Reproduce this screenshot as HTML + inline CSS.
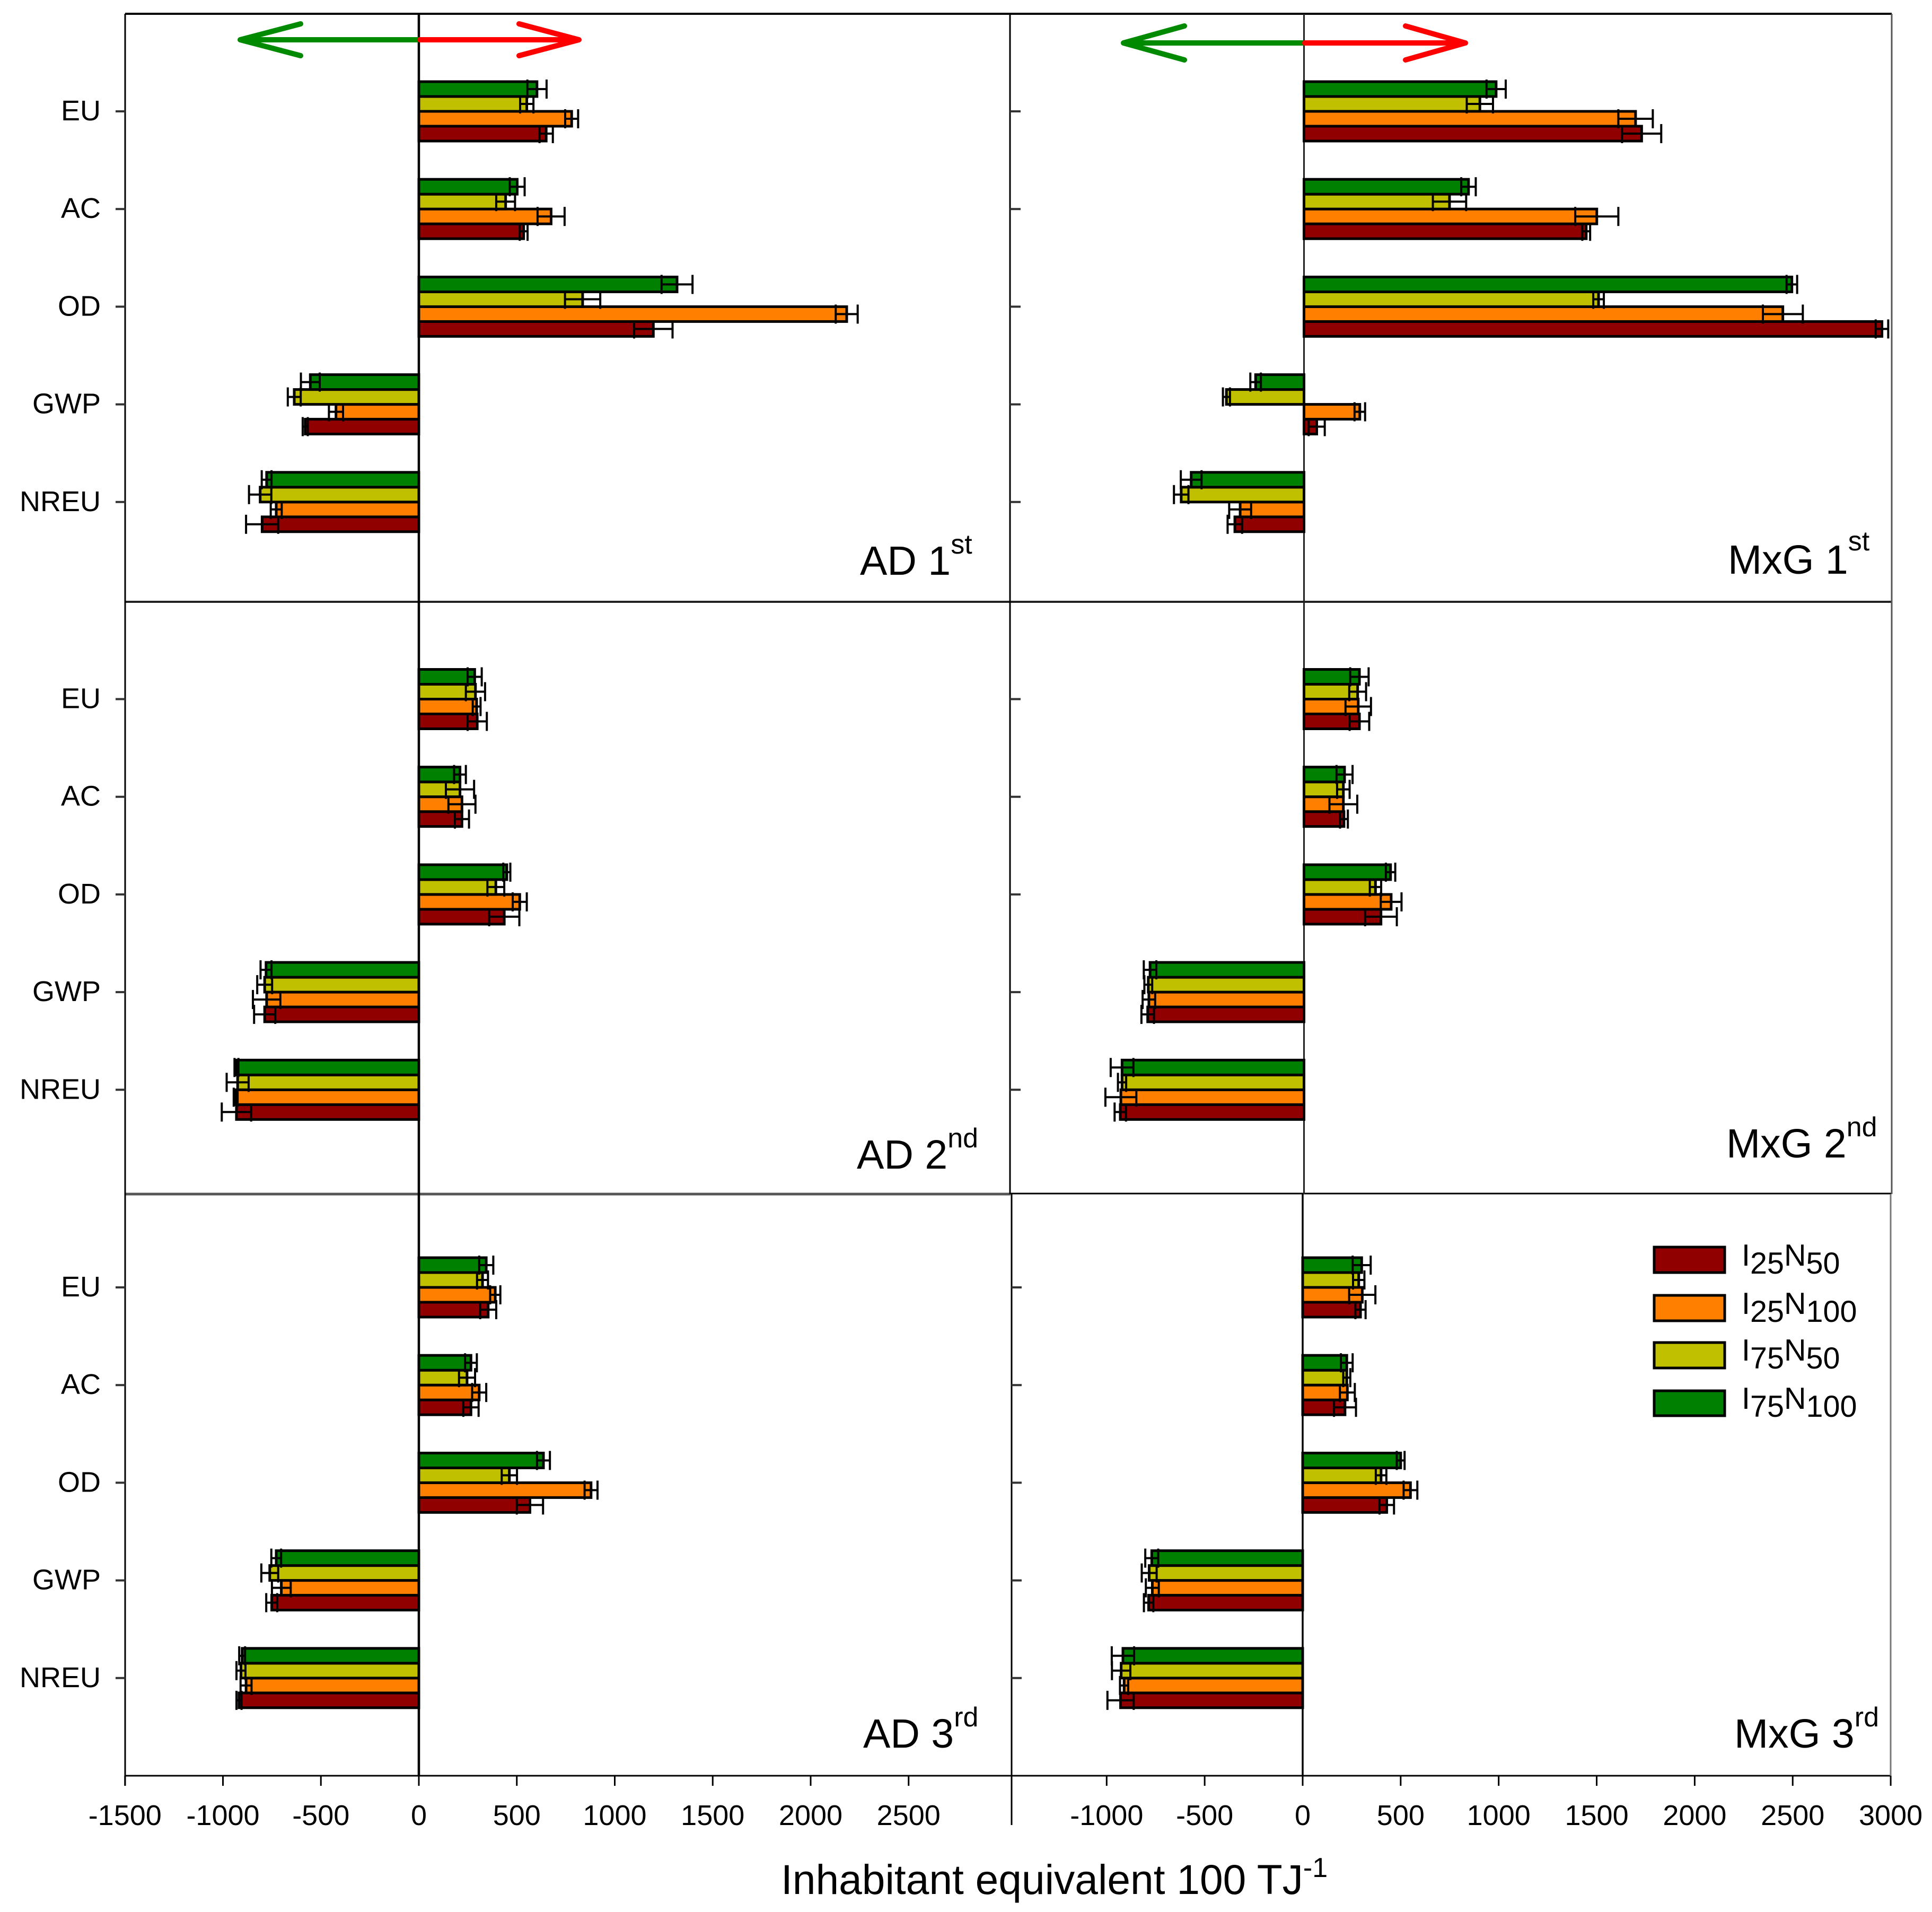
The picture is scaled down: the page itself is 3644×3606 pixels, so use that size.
<!DOCTYPE html>
<html lang="en">
<head>
<meta charset="utf-8">
<title>Inhabitant equivalent per 100 TJ</title>
<style>
html,body{margin:0;padding:0;background:#fff;}
svg{display:block;}
text{font-family:"Liberation Sans",Arial,sans-serif;fill:#000;}
</style>
</head>
<body>
<svg id="chart" xmlns="http://www.w3.org/2000/svg" width="3644" height="3606" viewBox="0 0 3644 3606">
  <rect x="0" y="0" width="3644" height="3606" fill="#fff"/>

  <g id="frame" stroke="#000" fill="none">
    <line x1="236" y1="26" x2="3568" y2="26" stroke-width="4"/>
    <line x1="236" y1="1135" x2="3568" y2="1135" stroke-width="4" stroke="#222"/>
    <line x1="236" y1="2252" x2="1906" y2="2252" stroke-width="5" stroke="#555"/>
    <line x1="1906" y1="2251" x2="3567" y2="2251" stroke-width="3"/>
    <line x1="236" y1="3349" x2="3567" y2="3349" stroke-width="3"/>
    <line x1="236" y1="26" x2="236" y2="3368" stroke-width="3"/>
    <line x1="1905" y1="26" x2="1905" y2="2252" stroke-width="3"/>
    <line x1="1908" y1="2252" x2="1908" y2="3442" stroke-width="3"/>
    <line x1="3568" y1="26" x2="3568" y2="2252" stroke-width="3" stroke="#555"/>
    <line x1="3566" y1="2252" x2="3566" y2="3349" stroke-width="3" stroke="#777"/>
    <line x1="790" y1="26" x2="790" y2="3349" stroke-width="4.5"/>
    <line x1="2459.5" y1="26" x2="2459.5" y2="2252" stroke-width="3" stroke="#222"/>
    <line x1="2457" y1="2252" x2="2457" y2="3349" stroke-width="3.5"/>
  </g>

  <g id="panels"></g>

  <g fill="none" stroke-width="10" stroke-linecap="round" stroke-linejoin="round">
    <path d="M790 75H453M567 45L453 75L567 105" stroke="#008a00"/>
    <path d="M792 75H1092M979 45L1092 75L979 105" stroke="#ff0000"/>
  </g>
  <g fill="none" stroke-width="10" stroke-linecap="round" stroke-linejoin="round">
    <path d="M2459 81H2119M2234 49L2119 81L2234 113" stroke="#008a00"/>
    <path d="M2461 81H2764M2651 49L2764 81L2651 113" stroke="#ff0000"/>
  </g>

  <g font-size="77">
    <text x="1622" y="1084">AD 1<tspan font-size="52" dy="-40">st</tspan></text>
    <text x="1616" y="2204">AD 2<tspan font-size="52" dy="-40">nd</tspan></text>
    <text x="1628" y="3296">AD 3<tspan font-size="52" dy="-40">rd</tspan></text>
    <text x="3259" y="1082">MxG 1<tspan font-size="52" dy="-44">st</tspan></text>
    <text x="3256" y="2183">MxG 2<tspan font-size="52" dy="-40">nd</tspan></text>
    <text x="3271" y="3296">MxG 3<tspan font-size="52" dy="-40">rd</tspan></text>
  </g>

  <g font-size="57.5">
    <g>
      <rect x="3120" y="2352" width="133" height="48" fill="#900000" stroke="#000" stroke-width="5"/>
      <text x="3285" y="2387">I<tspan dy="15">25</tspan><tspan dy="-15">N</tspan><tspan dy="15">50</tspan></text>
    </g>
    <g>
      <rect x="3120" y="2443" width="133" height="48" fill="#ff8000" stroke="#000" stroke-width="5"/>
      <text x="3285" y="2478">I<tspan dy="15">25</tspan><tspan dy="-15">N</tspan><tspan dy="15">100</tspan></text>
    </g>
    <g>
      <rect x="3120" y="2532" width="133" height="48" fill="#c0c000" stroke="#000" stroke-width="5"/>
      <text x="3285" y="2566">I<tspan dy="15">75</tspan><tspan dy="-15">N</tspan><tspan dy="15">50</tspan></text>
    </g>
    <g>
      <rect x="3120" y="2623" width="133" height="47" fill="#008000" stroke="#000" stroke-width="5"/>
      <text x="3285" y="2657">I<tspan dy="15">75</tspan><tspan dy="-15">N</tspan><tspan dy="15">100</tspan></text>
    </g>
  </g>

  <text x="1473" y="3572" font-size="78.5">Inhabitant equivalent 100 TJ<tspan font-size="52" dy="-32">-1</tspan></text>
</svg>

<script>
// Chart data: each panel lists series in drawing order I25N50, I25N100, I75N50, I75N100,
// each series holding values for EU, AC, OD, GWP, NREU.
const categories = ['EU', 'AC', 'OD', 'GWP', 'NREU'];
const seriesNames = ['I25N50', 'I25N100', 'I75N50', 'I75N100'];
const seriesColors = ['#900000', '#ff8000', '#c0c000', '#008000'];
const xTicksLeft = [-1500, -1000, -500, 0, 500, 1000, 1500, 2000, 2500];
const xTicksRight = [-1000, -500, 0, 500, 1000, 1500, 2000, 2500, 3000];

const ad1Values = [
  [650, 535, 1197, -580, -800],
  [780, 675, 2184, -423, -728],
  [551, 443, 836, -636, -810],
  [603, 502, 1318, -554, -777]
];
const ad1Errors = [
  [34, 20, 98, 13, 82],
  [33, 69, 56, 36, 28],
  [34, 48, 90, 33, 57],
  [49, 38, 79, 48, 25]
];
const mxg1Values = [
  [1724, 1441, 2951, 65, -353],
  [1693, 1495, 2445, 285, -326],
  [898, 743, 1504, -396, -627],
  [981, 840, 2491, -247, -576]
];
const mxg1Errors = [
  [100, 20, 32, 41, 37],
  [88, 110, 102, 27, 56],
  [67, 85, 27, 18, 37],
  [49, 37, 27, 27, 53]
];
const ad2Values = [
  [298, 220, 436, -787, -931],
  [295, 220, 515, -777, -935],
  [289, 210, 393, -787, -925],
  [285, 210, 449, -780, -931]
];
const ad2Errors = [
  [49, 36, 77, 54, 75],
  [20, 69, 36, 70, 10],
  [49, 72, 43, 38, 56],
  [36, 30, 18, 28, 10]
];
const mxg2Values = [
  [283, 204, 393, -798, -938],
  [277, 201, 445, -792, -935],
  [274, 201, 365, -795, -929],
  [283, 207, 442, -786, -929]
];
const mxg2Errors = [
  [50, 20, 81, 32, 29],
  [65, 71, 53, 32, 79],
  [43, 32, 29, 20, 21],
  [47, 41, 24, 32, 58]
];
const ad3Values = [
  [354, 266, 567, -751, -918],
  [390, 308, 879, -702, -882],
  [325, 246, 462, -761, -908],
  [344, 266, 636, -728, -902]
];
const ad3Errors = [
  [41, 39, 67, 28, 13],
  [26, 36, 33, 48, 28],
  [28, 41, 39, 43, 23],
  [36, 30, 33, 25, 15]
];
const mxg3Values = [
  [295, 216, 429, -786, -929],
  [304, 228, 550, -767, -911],
  [286, 225, 400, -783, -926],
  [301, 225, 500, -770, -917]
];
const mxg3Errors = [
  [26, 56, 37, 24, 67],
  [67, 38, 35, 33, 21],
  [29, 18, 27, 38, 47],
  [46, 30, 20, 33, 57]
];

const NS = 'http://www.w3.org/2000/svg';
const panelsRoot = document.getElementById('panels');

function svgEl(tag, attrs, parent) {
  const el = document.createElementNS(NS, tag);
  for (const key in attrs) el.setAttribute(key, attrs[key]);
  parent.appendChild(el);
  return el;
}

function xScale(origin, pxPerUnit) {
  return function (v) { return origin + v * pxPerUnit; };
}
function yScale(firstCenter, spacing) {
  return function (i) { return firstCenter + i * spacing; };
}

function drawPanel(panel) {
  const g = svgEl('g', {}, panelsRoot);
  
  
  const x = xScale(panel.origin, panel.scale);
  const y = yScale(panel.firstCenter, 184.2);
  const slot = 28;
  const capHeight = 36;

  categories.forEach(function (cat, c) {
    const center = y(c);
    const tick = svgEl('line', {
      x1: panel.tickFrom, x2: panel.tickTo, y1: center, y2: center,
      stroke: '#333', 'stroke-width': 4
    }, g);
    
    

    if (panel.showLabels) {
      const label = svgEl('text', {
        x: 190, y: center + 17, 'text-anchor': 'end', 'font-size': 54
      }, g);
      label.textContent = cat;
      
      
    }

    // Draw from the bottom bar (I25N50) up to the top bar (I75N100).
    seriesNames.forEach(function (name, s) {
      const value = panel.values[s][c];
      const err = panel.errors[s][c];
      const barCenter = center + (1.5 - s) * slot;
      const x0 = x(0);
      const xv = x(value);
      const bar = svgEl('rect', {
        x: Math.min(x0, xv), y: barCenter - slot / 2,
        width: Math.abs(xv - x0), height: slot,
        fill: seriesColors[s], stroke: '#000', 'stroke-width': 5
      }, g);
      
      

      const lo = x(value - err);
      const hi = x(value + err);
      const errGroup = svgEl('g', { stroke: '#000', 'stroke-width': 4, fill: 'none' }, g);
      
      
      svgEl('line', { x1: lo, x2: hi, y1: barCenter, y2: barCenter }, errGroup);
      svgEl('line', { x1: lo, x2: lo, y1: barCenter - capHeight / 2, y2: barCenter + capHeight / 2 }, errGroup);
      svgEl('line', { x1: hi, x2: hi, y1: barCenter - capHeight / 2, y2: barCenter + capHeight / 2 }, errGroup);
    });
  });

  if (panel.xTicks) {
    panel.xTicks.forEach(function (t) {
      const tickMark = svgEl('line', {
        x1: x(t), x2: x(t), y1: 3349, y2: 3368, stroke: '#000', 'stroke-width': 3
      }, g);
      
      
      const tickLabel = svgEl('text', {
        x: x(t), y: 3442, 'text-anchor': 'middle', 'font-size': 54
      }, g);
      tickLabel.textContent = String(t);
      
      
    });
  }
}

drawPanel({ name: 'ad-1st', origin: 790, scale: 0.3695, firstCenter: 210, tickFrom: 218, tickTo: 236, showLabels: true, values: ad1Values, errors: ad1Errors });
drawPanel({ name: 'mxg-1st', origin: 2459.5, scale: 0.3694, firstCenter: 210, tickFrom: 1905, tickTo: 1925, showLabels: false, values: mxg1Values, errors: mxg1Errors });
drawPanel({ name: 'ad-2nd', origin: 790, scale: 0.3695, firstCenter: 1318.5, tickFrom: 218, tickTo: 236, showLabels: true, values: ad2Values, errors: ad2Errors });
drawPanel({ name: 'mxg-2nd', origin: 2459.5, scale: 0.3694, firstCenter: 1318.5, tickFrom: 1905, tickTo: 1925, showLabels: false, values: mxg2Values, errors: mxg2Errors });
drawPanel({ name: 'ad-3rd', origin: 790, scale: 0.3695, firstCenter: 2428, tickFrom: 218, tickTo: 236, showLabels: true, values: ad3Values, errors: ad3Errors, xTicks: xTicksLeft });
drawPanel({ name: 'mxg-3rd', origin: 2457, scale: 0.3697, firstCenter: 2428, tickFrom: 1908, tickTo: 1927, showLabels: false, values: mxg3Values, errors: mxg3Errors, xTicks: xTicksRight });
</script>
</body>
</html>
